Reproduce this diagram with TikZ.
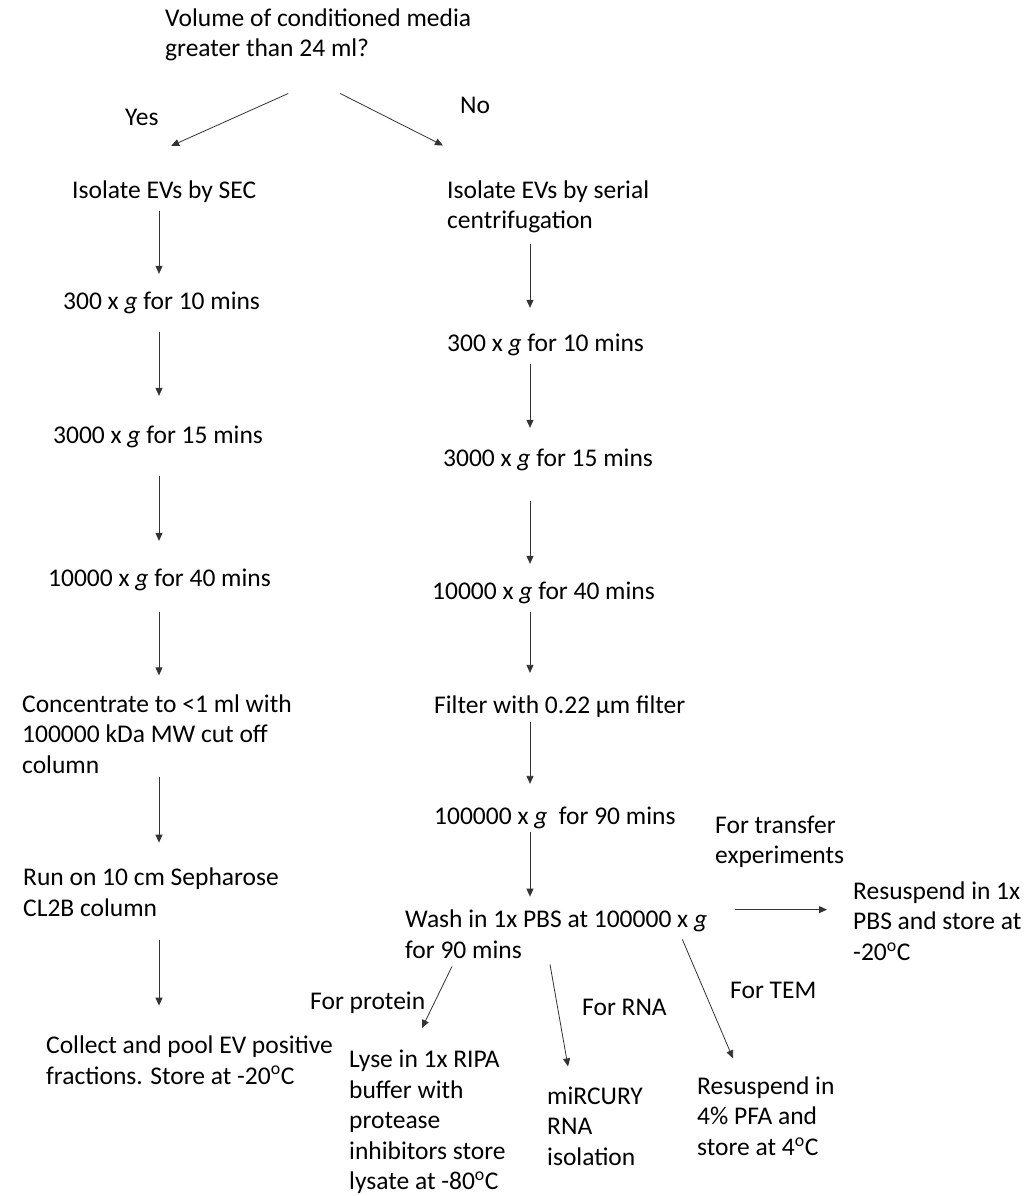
\documentclass[tikz,border=0pt]{standalone}
\usepackage{fontspec}
\setmainfont{Carlito}
\usepackage{tikz}
\usetikzlibrary{arrows.meta, positioning, calc}
\tikzstyle{arrow} = [draw=black!80, line width=0.8pt, -{Triangle[length=8pt,width=7pt]}]

\begin{document}
\begin{tikzpicture}[x=1pt, y=-1pt, every node/.style={inner sep=0pt, anchor=west, align=left, text=black, font=\fontsize{25.5}{30.5}\selectfont}]
    \useasboundingbox (0,0) rectangle (1025,1196);
    \coordinate (lx) at (159,0);
    \coordinate (rx) at (530,0);

    \node (volume) at (165,35) {Volume of conditioned media\\greater than 24 ml?};
    \node (yes) at (125,117) {Yes};
    \node (no) at (460,105) {No};

    \node (sec) at (72,192) {Isolate EVs by SEC};
    \node (l300) at (63,303) {300 x \textit{g} for 10 mins};
    \node (l3000) at (53,437) {3000 x \textit{g} for 15 mins};
    \node (l10000) at (48,580) {10000 x \textit{g} for 40 mins};
    \node (conc) at (22,734) {Concentrate to <1 ml with\\100000 kDa MW cut off\\column};
    \node (run) at (23,892) {Run on 10 cm Sepharose\\CL2B column};
    \node (coll) at (46,1060) {Collect and pool EV positive\\fractions. Store at -20\textsuperscript{o}C};

    \node (ser) at (447,207) {Isolate EVs by serial\\centrifugation};
    \node (r300) at (447,345) {300 x \textit{g} for 10 mins};
    \node (r3000) at (443,460) {3000 x \textit{g} for 15 mins};
    \node (r10000) at (432,593) {10000 x \textit{g} for 40 mins};
    \node (filt) at (434,707) {Filter with 0.22 µm filter};
    \node (r100000) at (434,818) {100000 x \textit{g}\ \ for 90 mins};
    \node (wash) at (405,934) {Wash in 1x PBS at 100000 x \textit{g}\\for 90 mins};

    \node (transfer) at (715,842) {For transfer\\experiments};
    \node (resus1) at (853,921) {Resuspend in 1x\\PBS and store at\\-20\textsuperscript{o}C};
    \node (protein) at (310,1003) {For protein};
    \node (lyse) at (349,1122) {Lyse in 1x RIPA\\buffer with\\protease\\inhibitors store\\lysate at -80\textsuperscript{o}C};
    \node (rna) at (582,1007) {For RNA};
    \node (mir) at (547,1126) {miRCURY\\RNA\\isolation};
    \node (tem) at (730,990) {For TEM};
    \node (resus2) at (697,1116) {Resuspend in\\4\% PFA and\\store at 4\textsuperscript{o}C};

    \draw[arrow] ([xshift=-30pt,yshift=-32pt]volume.south) -- ([xshift=7pt,yshift=35pt]sec.north);
    \draw[arrow] ([xshift=22pt,yshift=-32pt]volume.south) -- ([xshift=-4pt,yshift=35pt]ser.north west);

    \draw[arrow, shorten <=8pt, shorten >=18pt] (sec.south -| lx) -- (l300.north -| lx);
    \draw[arrow, shorten <=18pt, shorten >=30pt] (l300.south -| lx) -- (l3000.north -| lx);
    \draw[arrow, shorten <=28pt, shorten >=28pt] (l3000.south -| lx) -- (l10000.north -| lx);
    \draw[arrow, shorten <=21pt, shorten >=19pt] (l10000.south -| lx) -- (conc.north -| lx);
    \draw[arrow, shorten <=3pt, shorten >=25pt] (conc.south -| lx) -- (run.north -| lx);
    \draw[arrow, shorten <=24pt, shorten >=30pt] (run.south -| lx) -- (coll.north -| lx);

    \draw[arrow, shorten <=11pt, shorten >=26pt] (ser.south -| rx) -- (r300.north -| rx);
    \draw[arrow, shorten <=8pt, shorten >=21pt] (r300.south -| rx) -- (r3000.north -| rx);
    \draw[arrow, shorten <=30pt, shorten >=18pt] (r3000.south -| rx) -- (r10000.north -| rx);
    \draw[arrow, shorten <=8pt, shorten >=23pt] (r10000.south -| rx) -- (filt.north -| rx);
    \draw[arrow, shorten <=4pt, shorten >=23pt] (filt.south -| rx) -- (r100000.north -| rx);
    \draw[arrow, shorten <=3pt, shorten >=13pt] (r100000.south -| rx) -- (wash.north -| rx);

    \draw[arrow, shorten <=28pt, shorten >=26pt] (wash.north east) -- (wash.north east -| resus1.west);
    \draw[arrow] ([xshift=47pt,yshift=-8pt]wash.south west) -- ([xshift=73pt,yshift=22pt]lyse.north west);
    \draw[arrow] ([xshift=145pt,yshift=-6pt]wash.south west) -- ([xshift=21pt,yshift=20pt]mir.north west);
    \draw[arrow] ([xshift=-25pt,yshift=19pt]wash.south east) -- ([xshift=36pt,yshift=18pt]resus2.north west);
\end{tikzpicture}
\end{document}
